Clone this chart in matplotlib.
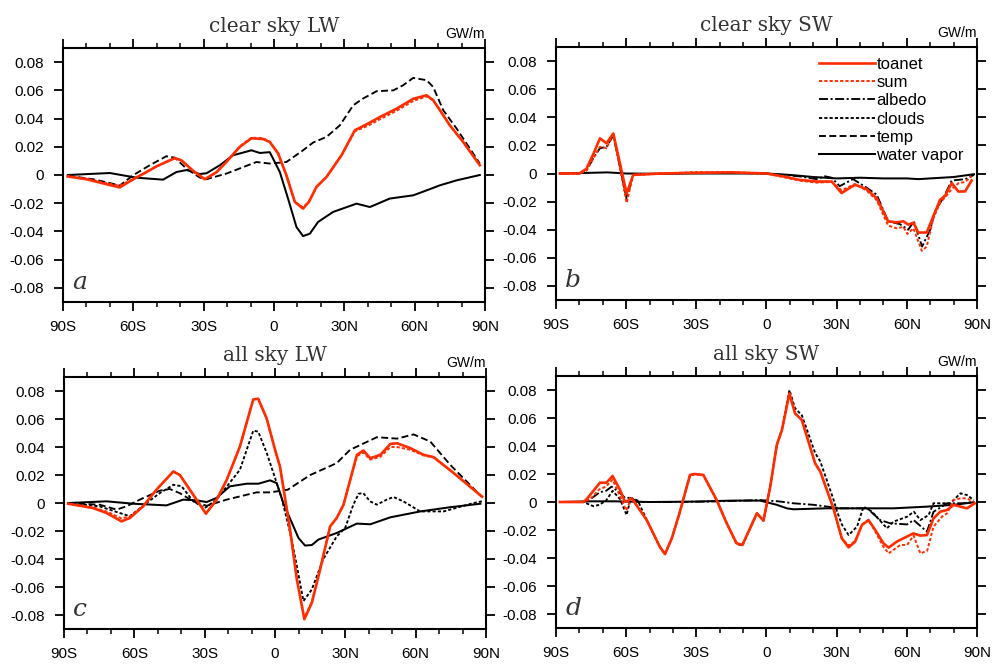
import matplotlib
matplotlib.use('Agg')
import matplotlib.pyplot as plt
from matplotlib.lines import Line2D

plt.rcParams['font.family'] = ['Liberation Sans', 'DejaVu Sans']
plt.rcParams['axes.unicode_minus'] = False
plt.rcParams['lines.scale_dashes'] = False

# ---------------- axis / text data ----------------
X_TICKS = [-90, -60, -30, 0, 30, 60, 90]
X_TICK_LABELS = ['90S', '60S', '30S', '0', '30N', '60N', '90N']
X_MINOR = [-80, -70, -50, -40, -20, -10, 10, 20, 40, 50, 70, 80]
Y_TICKS = [-0.08, -0.06, -0.04, -0.02, 0.0, 0.02, 0.04, 0.06, 0.08]
Y_TICK_LABELS = ['-0.08', '-0.06', '-0.04', '-0.02', '0', '0.02', '0.04', '0.06', '0.08']
TITLES = ['clear sky LW', 'clear sky SW', 'all sky LW', 'all sky SW']
LETTERS = ['a', 'b', 'c', 'd']
UNITS = 'GW/m'
LEGEND_LABELS = ['toanet', 'sum', 'albedo', 'clouds', 'temp', 'water vapor']

# ---------------- panel a: clear sky LW ----------------
A_TOANET_LAT = [-88, -80, -72, -65.8, -60, -55, -50, -42.3, -39.5, -34.5, -29.5, -24.5, -20.3, -14.6, -9.6, -4.6,
                -1.8, 1.8, 5.3, 8.9, 12.4, 14.9, 18.1, 22.4, 28.8, 34.5, 40.2, 45.2, 52.3, 59.4, 65.1, 67.9,
                70.8, 75, 80.7, 87.8]
A_TOANET = [-0.001, -0.003, -0.0063, -0.0088, -0.003, 0.0015, 0.0062, 0.012, 0.0104, 0.003, -0.003, 0.002,
            0.0092, 0.0199, 0.026, 0.0255, 0.0234, 0.0152, -0.0002, -0.0191, -0.0238, -0.0191, -0.0085, -0.0014,
            0.014, 0.0317, 0.0365, 0.0411, 0.047, 0.054, 0.0565, 0.053, 0.0459, 0.0352, 0.0234, 0.0069]
A_SUM_LAT = A_TOANET_LAT
A_SUM = [-0.001, -0.0026, -0.0056, -0.0074, -0.0028, 0.0015, 0.0062, 0.0118, 0.0104, 0.003, -0.003, 0.002,
         0.0094, 0.0203, 0.0265, 0.026, 0.0236, 0.0152, -0.0002, -0.019, -0.023, -0.0188, -0.0085, -0.0014,
         0.0138, 0.031, 0.035, 0.0395, 0.0455, 0.0525, 0.0557, 0.053, 0.0459, 0.0352, 0.0234, 0.0069]
A_TEMP_LAT = [-87.9, -77.2, -70, -65.8, -60.1, -53, -45.9, -42.3, -37.3, -31.7, -28.8, -20.3, -7.5, -1.8,
              5.3, 12.4, 16.7, 22.4, 28.1, 33.8, 38.0, 43.8, 50.9, 55.1, 59.4, 65.1, 67.9, 72.2, 77.9, 87.8]
A_TEMP = [-0.0005, -0.003, -0.0057, -0.0075, -0.0002, 0.0069, 0.0133, 0.0123, 0.0045, -0.0018, -0.003, 0.001,
          0.0092, 0.0081, 0.0092, 0.0175, 0.023, 0.027, 0.0352, 0.0494, 0.0542, 0.0594, 0.060, 0.0636, 0.0688,
          0.0672, 0.0624, 0.0459, 0.0329, 0.0081]
A_WV_LAT = [-87.9, -70, -58.7, -47.3, -41.6, -37.3, -31.7, -28.8, -23.1, -17.4, -9.6, -6.0, -1.8, 2.5, 6.0,
            9.6, 12.4, 15.3, 18.8, 25.2, 35.2, 40.9, 49.4, 59.4, 65.1, 70.8, 77.9, 87.8]
A_WV = [0.0, 0.0014, -0.0019, -0.0033, 0.0021, 0.0035, 0.0007, 0.0012, 0.0069, 0.014, 0.0175, 0.0156, 0.0162,
        0.0021, -0.0167, -0.0369, -0.0433, -0.0416, -0.0333, -0.0262, -0.0203, -0.0227, -0.0167, -0.0144,
        -0.0109, -0.0073, -0.0038, 0.0]

# ---------------- panel b: clear sky SW ----------------
B_TOANET_LAT = [-88.3, -80, -77, -74, -71.2, -68.4, -65.5, -59.8, -57, -45, -30, -15, 0, 7, 14, 21.4, 27.9,
                32.1, 37.8, 42.7, 47.1, 52, 55.6, 58.5, 60.6, 62.8, 64.9, 68.5, 71.3, 74.2, 76.3, 79.2, 82,
                84.9, 87.7]
B_TOANET = [0.0, 0.0, 0.0033, 0.014, 0.025, 0.0215, 0.0285, -0.0142, -0.001, 0.0, 0.0005, 0.0008, 0.0, -0.002,
            -0.0045, -0.0057, -0.0057, -0.0139, -0.008, -0.011, -0.0175, -0.034, -0.0348, -0.034, -0.0364,
            -0.035, -0.042, -0.042, -0.0305, -0.0187, -0.016, -0.0068, -0.0128, -0.0128, -0.005]
B_SUM_LAT = [-88.3, -80, -77, -74, -71.2, -68.4, -65.5, -59.8, -57, -45, -30, -15, 0, 7, 14, 21.4, 27.9,
             32.1, 37.8, 42.7, 47.1, 52, 55.6, 58.5, 60.2, 62.8, 66.4, 68.5, 71.3, 74.2, 76.3, 79.2, 82,
             84.9, 87.7]
B_SUM = [0.0, 0.0, 0.002, 0.011, 0.019, 0.018, 0.028, -0.021, -0.001, 0.0, 0.001, 0.001, 0.0, -0.0025, -0.005,
         -0.0065, -0.006, -0.012, -0.0075, -0.012, -0.019, -0.037, -0.039, -0.038, -0.043, -0.039, -0.055,
         -0.052, -0.032, -0.021, -0.017, -0.011, -0.007, -0.006, -0.002]
B_ALBEDO_LAT = [-88.3, -80, -77, -74, -71.2, -68.4, -65.5, -59.8, -57, -45, -30, -15, 0, 7, 14, 21.4, 25,
                27.9, 31.3, 37, 42.7, 47.1, 52, 57, 60.6, 63, 66.5, 70, 72, 76, 79.2, 85, 88.7]
B_ALBEDO = [0.0, 0.0, 0.002, 0.011, 0.018, 0.019, 0.027, -0.018, -0.001, 0.0, 0.0005, 0.0005, 0.0, -0.001,
            -0.002, -0.004, -0.002, -0.003, -0.009, -0.004, -0.01, -0.015, -0.034, -0.036, -0.040, -0.034,
            -0.052, -0.040, -0.027, -0.016, -0.005, -0.004, -0.001]
B_WV_LAT = [-88.3, -75, -68, -60, -45, -30, -15, 0, 10, 20, 30, 40, 50, 60, 65, 70, 80, 88.7]
B_WV = [0.0, 0.0005, 0.0008, 0.0, -0.0002, 0.0, 0.0, 0.0, -0.001, -0.0025, -0.0035, -0.003, -0.0035, -0.0035,
        -0.004, -0.0035, -0.0025, -0.0005]

# ---------------- panel c: all sky LW ----------------
C_TOANET_LAT = [-88.3, -77.6, -71.9, -65.5, -61.9, -56.3, -50.6, -43.4, -40.6, -34.9, -29.5, -24.9, -20.6,
                -15.0, -9.3, -7.2, -3.6, 0, 2.1, 6.4, 9.3, 12.5, 15.7, 19.2, 23.5, 26.3, 29.2, 34.9, 37.7,
                40.6, 44.9, 49.2, 52.0, 57.7, 63.4, 67.6, 76.2, 88.3]
C_TOANET = [-0.0005, -0.0036, -0.0071, -0.0131, -0.0107, -0.0024, 0.0095, 0.0225, 0.020, 0.0059, -0.0076,
            0.0024, 0.0166, 0.0403, 0.074, 0.0745, 0.0605, 0.038, 0.026, -0.019, -0.0546, -0.083, -0.0712,
            -0.0475, -0.0167, -0.0107, -0.0012, 0.0344, 0.0375, 0.032, 0.0344, 0.0422, 0.0427, 0.0392,
            0.0344, 0.0328, 0.0214, 0.0045]
C_SUM_LAT = C_TOANET_LAT
C_SUM = [-0.0005, -0.0032, -0.006, -0.011, -0.0095, -0.0024, 0.0095, 0.0225, 0.020, 0.0059, -0.0076, 0.0024,
         0.0166, 0.0403, 0.074, 0.0745, 0.0605, 0.038, 0.026, -0.019, -0.0546, -0.082, -0.0705, -0.0475,
         -0.0167, -0.0107, -0.0012, 0.0335, 0.036, 0.031, 0.033, 0.040, 0.040, 0.038, 0.034, 0.0325, 0.0214,
         0.0045]
C_CLOUDS_LAT = [-88.3, -74.8, -68.3, -61.9, -54.8, -49.2, -43.4, -39.9, -34.9, -30, -25, -20.6, -15, -9.3,
                -7.2, -3.6, -0.7, 2.8, 6.4, 9.3, 12.1, 15.6, 20.6, 26.3, 29.9, 33.4, 35.6, 37.6, 40.5, 43.4,
                47.6, 50.5, 54.7, 61.9, 71.9, 84.7, 88.3]
C_CLOUDS = [0.0, -0.0024, -0.006, -0.0095, 0.0, 0.007, 0.013, 0.012, 0.0012, -0.0036, 0.0024, 0.0118, 0.0237,
            0.0517, 0.051, 0.036, 0.0214, 0.0036, -0.021, -0.045, -0.070, -0.062, -0.040, -0.0238, -0.0178,
            -0.0012, 0.0066, 0.0071, 0.0012, -0.0012, 0.0024, 0.0043, 0.0012, -0.006, -0.006, 0.0, 0.0012]
C_TEMP_LAT = [-88.3, -74.8, -67.6, -63.4, -57.7, -49.2, -44.9, -40.6, -34.9, -29.2, -20.7, -7.9, -2.1, 5.4,
              15.0, 26.3, 32.0, 43.4, 52.0, 59.1, 66.2, 74.7, 88.0]
C_TEMP = [0.0, -0.0012, -0.0047, -0.0024, 0.0024, 0.0088, 0.010, 0.007, 0.0012, -0.002, 0.0024, 0.0076,
          0.0076, 0.0095, 0.020, 0.0285, 0.038, 0.047, 0.046, 0.049, 0.0439, 0.0273, 0.0047]
C_WV_LAT = [-88.3, -71.9, -60.5, -46.3, -39.2, -33.5, -29.2, -25, -19.3, -12.1, -7.1, -2.1, 0.7, 3.5, 10.0,
            12.8, 15.7, 18.5, 26.3, 34.9, 40.6, 49.2, 62.0, 74.7, 87.6]
C_WV = [0.0, 0.0012, -0.0005, -0.0017, 0.0024, 0.0019, 0.0007, 0.0036, 0.0119, 0.0138, 0.0138, 0.0162,
        0.0142, 0.0, -0.025, -0.0304, -0.030, -0.0261, -0.0214, -0.0147, -0.0152, -0.0102, -0.006, -0.003,
        -0.0005]

# ---------------- panel d: all sky SW ----------------
D_TOANET_LAT = [-88.3, -78.3, -76.9, -71.2, -68.4, -65.8, -62.6, -60.5, -59.0, -57.6, -51.2, -45.6, -43.4,
                -40.5, -37.2, -32.7, -30.6, -27.0, -21.3, -17.0, -12.8, -10.3, -4.1, -1.3, 1.6, 4.4, 6.6, 9.8,
                12.2, 15.1, 20.8, 23.0, 28.6, 32.2, 35.1, 37.9, 40.8, 43.6, 46.5, 50.0, 52.2, 55.7, 62.8, 65.7,
                68.6, 71.4, 74.3, 77.2, 80.0, 82.9, 85.7, 89.0]
D_TOANET = [0.0, 0.0, 0.002, 0.0138, 0.0138, 0.0186, 0.0086, 0.0002, 0.001, 0.0026, -0.0129, -0.032, -0.0372,
            -0.026, -0.008, 0.0193, 0.020, 0.0193, 0.0014, -0.0152, -0.0295, -0.0307, -0.0081, -0.0133, 0.011,
            0.0407, 0.0514, 0.0776, 0.0633, 0.0586, 0.0276, 0.0217, -0.0045, -0.026, -0.0324, -0.0283, -0.0164,
            -0.0129, -0.020, -0.0295, -0.0326, -0.0283, -0.0224, -0.024, -0.0236, -0.0117, -0.0069, -0.0057,
            -0.0021, -0.0033, -0.0045, -0.001]
D_SUM_LAT = [-88.3, -78.3, -75.4, -71.5, -68.6, -65.8, -62.6, -60.0, -59.0, -57.6, -51.2, -45.6, -43.4, -40.5,
             -37.2, -32.7, -30.6, -27.0, -21.3, -17.0, -12.8, -10.3, -4.1, -1.3, 1.6, 4.4, 6.6, 9.8, 12.2, 15.1,
             20.8, 23.0, 28.6, 32.2, 35.1, 37.9, 40.8, 43.6, 46.5, 50.0, 52.2, 57.2, 60.1, 62.9, 65.8, 68.7,
             71.4, 75.0, 77.2, 80.0, 82.9, 85.7, 88.5]
D_SUM = [0.0, 0.0, 0.002, 0.009, 0.011, 0.016, 0.004, -0.006, -0.002, 0.003, -0.0129, -0.032, -0.0372, -0.026,
         -0.008, 0.0193, 0.020, 0.0193, 0.0014, -0.0152, -0.0295, -0.0307, -0.0081, -0.0133, 0.011, 0.0407,
         0.0514, 0.0776, 0.0633, 0.0586, 0.0276, 0.0217, -0.0045, -0.026, -0.031, -0.028, -0.0164, -0.013,
         -0.021, -0.032, -0.0367, -0.0307, -0.0307, -0.024, -0.0367, -0.0348, -0.0176, -0.0105, -0.0081,
         0.0014, 0.0026, 0.0026, 0.0002]
D_CLOUDS_LAT = [-88.3, -78.3, -74.0, -71.5, -68.6, -65.8, -62.6, -59.8, -58.0, -55.0, -51.2, -45.6, -43.4,
                -40.5, -37.2, -32.7, -30.6, -27.0, -21.3, -17.0, -12.8, -10.3, -4.1, -1.3, 1.6, 4.4, 6.6, 9.8,
                12.2, 15.1, 20.8, 23.0, 28.6, 30.0, 32.2, 35.1, 38.7, 41.5, 45.1, 51.5, 54.3, 60.1, 63.0, 65.8,
                69.3, 71.4, 78.6, 82.9, 85.7, 88.6]
D_CLOUDS = [0.0, 0.0, -0.003, -0.002, 0.001, 0.008, 0.002, -0.0093, 0.003, 0.001, -0.0129, -0.032, -0.0372,
            -0.026, -0.008, 0.0193, 0.020, 0.0193, 0.0014, -0.0152, -0.030, -0.031, -0.0081, -0.0133, 0.011,
            0.0407, 0.052, 0.080, 0.067, 0.062, 0.035, 0.029, 0.002, -0.006, -0.016, -0.0236, -0.0176, -0.0033,
            -0.0069, -0.0188, -0.014, -0.0105, -0.0069, -0.0129, -0.0093, -0.0009, -0.0009, 0.0062, 0.005,
            0.0014]
D_ALBEDO_LAT = [-88.3, -78.3, -75.4, -71.2, -68.6, -66.2, -63, -60.5, -58, -55, -40, -20, -2.7, 5, 11.5, 20.1,
                31.5, 43, 48.6, 52.9, 60.1, 62.9, 68.6, 71.4, 77.2, 84.3, 88.6]
D_ALBEDO = [0.0, 0.0, 0.002, 0.007, 0.008, 0.011, 0.007, 0.003, 0.003, 0.0, 0.0, 0.0005, 0.0014, 0.0005,
            -0.0009, -0.002, -0.0045, -0.0045, -0.0129, -0.0152, -0.016, -0.0129, -0.0212, -0.007, -0.0009,
            -0.0009, 0.0002]
D_WV_LAT = [-88.3, -75, -65, -50, -30, -15, -2.7, 4.4, 8.7, 11.5, 25.8, 40, 54.3, 68.6, 80, 88.6]
D_WV = [0.0, 0.0005, 0.0005, 0.0, 0.0003, 0.001, 0.001, -0.002, -0.0045, -0.0052, -0.0045, -0.0045, -0.0045,
        -0.0033, -0.002, -0.0002]

# ---------------- styles ----------------
RED = '#ff2d00'
STYLES = {
    'toanet': dict(color=RED, lw=1.9, ls='-'),
    'sum': dict(color=RED, lw=1.4, ls=(0, (2.3, 1.5))),
    'albedo': dict(color='black', lw=1.35, ls=(0, (6.5, 1.8, 1.5, 1.8))),
    'clouds': dict(color='black', lw=1.35, ls=(0, (2.3, 1.5))),
    'temp': dict(color='black', lw=1.35, ls=(0, (5.0, 2.4))),
    'water vapor': dict(color='black', lw=1.45, ls='-'),
}

PANELS = [
    [('water vapor', A_WV_LAT, A_WV), ('temp', A_TEMP_LAT, A_TEMP),
     ('sum', A_SUM_LAT, A_SUM), ('toanet', A_TOANET_LAT, A_TOANET)],
    [('water vapor', B_WV_LAT, B_WV), ('albedo', B_ALBEDO_LAT, B_ALBEDO),
     ('sum', B_SUM_LAT, B_SUM), ('toanet', B_TOANET_LAT, B_TOANET)],
    [('water vapor', C_WV_LAT, C_WV), ('temp', C_TEMP_LAT, C_TEMP), ('clouds', C_CLOUDS_LAT, C_CLOUDS),
     ('sum', C_SUM_LAT, C_SUM), ('toanet', C_TOANET_LAT, C_TOANET)],
    [('water vapor', D_WV_LAT, D_WV), ('albedo', D_ALBEDO_LAT, D_ALBEDO), ('clouds', D_CLOUDS_LAT, D_CLOUDS),
     ('sum', D_SUM_LAT, D_SUM), ('toanet', D_TOANET_LAT, D_TOANET)],
]

POSITIONS = [
    [0.0634, 0.5452, 0.4250, 0.3825],
    [0.5599, 0.5482, 0.4240, 0.3810],
    [0.0645, 0.0527, 0.4250, 0.3795],
    [0.5599, 0.0542, 0.4240, 0.3795],
]

fig = plt.figure(figsize=(9.93, 6.64), dpi=100)
TEXT_COL = '#333333'

for i, series in enumerate(PANELS):
    ax = fig.add_axes(POSITIONS[i])
    for name, lat, val in series:
        st = STYLES[name]
        ax.plot(lat, val, color=st['color'], lw=st['lw'], linestyle=st['ls'],
                solid_joinstyle='round', dash_joinstyle='round')
    ax.set_xlim(-90, 90)
    ax.set_ylim(-0.09, 0.09)
    ax.set_xticks(X_TICKS)
    ax.set_xticklabels(X_TICK_LABELS)
    ax.set_xticks(X_MINOR, minor=True)
    ax.set_yticks(Y_TICKS)
    ax.set_yticklabels(Y_TICK_LABELS)
    ax.tick_params(axis='both', which='major', direction='out', length=6.5, width=1.3,
                   top=True, right=True, labelsize=11, colors='black')
    ax.tick_params(axis='x', which='major', pad=6.5)
    ax.tick_params(axis='y', which='major', pad=7)
    ax.tick_params(axis='x', which='minor', direction='out', length=3.5, width=1.1, top=True, bottom=True)
    for sp in ax.spines.values():
        sp.set_linewidth(1.5)
    ax.annotate(TITLES[i], xy=(0.5, 1.0), xycoords='axes fraction', xytext=(0, 11.5),
                textcoords='offset points', ha='center', va='baseline',
                fontfamily='DejaVu Serif', fontsize=14.5, color=TEXT_COL)
    ax.annotate(UNITS, xy=(1.0, 1.0), xycoords='axes fraction', xytext=(0, 7),
                textcoords='offset points', ha='right', va='baseline', fontsize=10)
    ax.text(0.022, 0.05, LETTERS[i], transform=ax.transAxes, ha='left', va='baseline',
            fontfamily='DejaVu Serif', fontstyle='italic', fontsize=18, color=TEXT_COL)
    if i == 1:
        handles = [Line2D([0], [0], color=STYLES[n]['color'], lw=STYLES[n]['lw'],
                          linestyle=STYLES[n]['ls']) for n in LEGEND_LABELS]
        ax.legend(handles, LEGEND_LABELS, loc='upper left', bbox_to_anchor=(0.625, 0.962),
                  frameon=False, handlelength=3.35, handletextpad=0.08, labelspacing=0.2,
                  borderpad=0, borderaxespad=0, fontsize=12)

fig.savefig('out.png', dpi=100)
